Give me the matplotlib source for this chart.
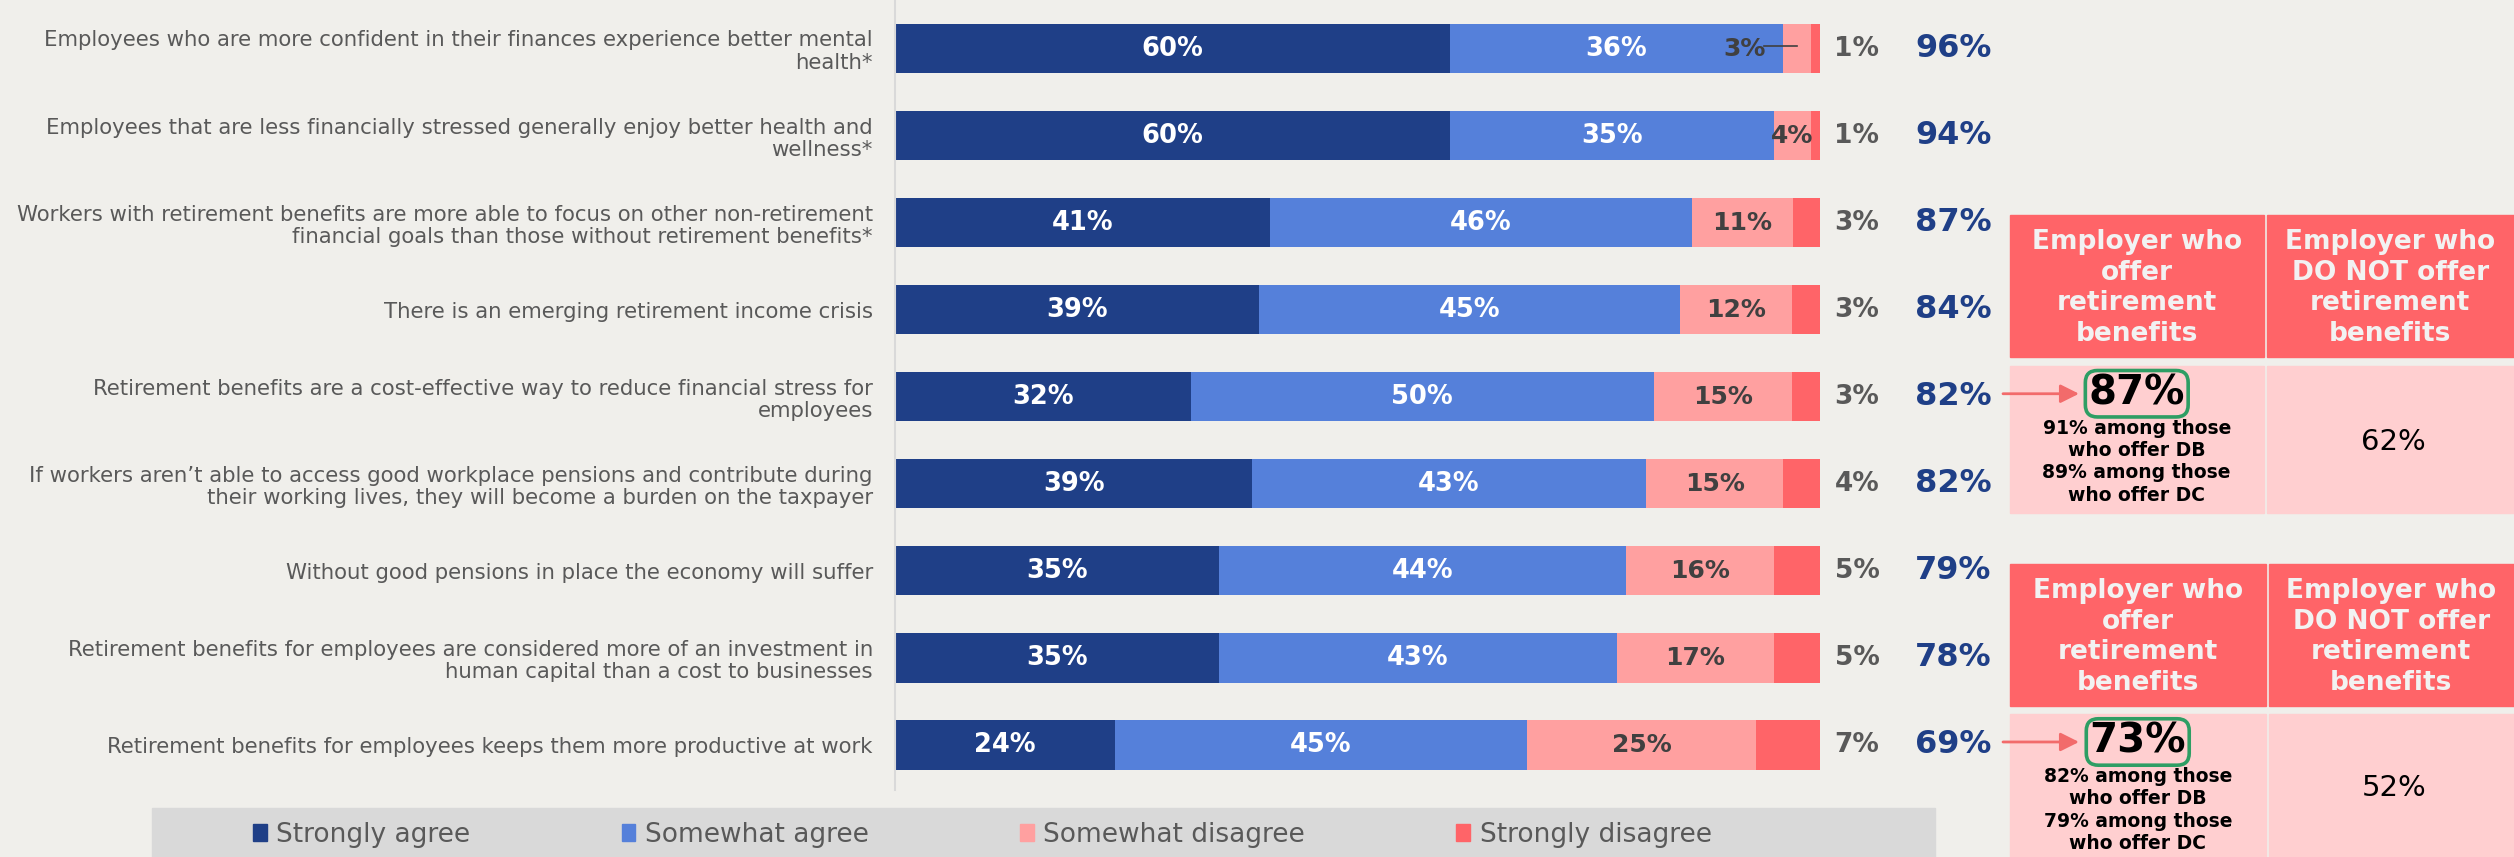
import matplotlib
matplotlib.use("Agg")
import matplotlib.pyplot as plt
from matplotlib.patches import Rectangle

# ---------------------------------------------------------------- data
statements = [
    "Employees who are more confident in their finances experience better mental\nhealth*",
    "Employees that are less financially stressed generally enjoy better health and\nwellness*",
    "Workers with retirement benefits are more able to focus on other non-retirement\nfinancial goals than those without retirement benefits*",
    "There is an emerging retirement income crisis",
    "Retirement benefits are a cost-effective way to reduce financial stress for\nemployees",
    "If workers aren\u2019t able to access good workplace pensions and contribute during\ntheir working lives, they will become a burden on the taxpayer",
    "Without good pensions in place the economy will suffer",
    "Retirement benefits for employees are considered more of an investment in\nhuman capital than a cost to businesses",
    "Retirement benefits for employees keeps them more productive at work",
]
strongly_agree = [60, 60, 41, 39, 32, 39, 35, 35, 24]
somewhat_agree = [36, 35, 46, 45, 50, 43, 44, 43, 45]
somewhat_disagree = [3, 4, 11, 12, 15, 15, 16, 17, 25]
strongly_disagree = [1, 1, 3, 3, 3, 4, 5, 5, 7]
net_agree = [96, 94, 87, 84, 82, 82, 79, 78, 69]
series_names = ["Strongly agree", "Somewhat agree", "Somewhat disagree", "Strongly disagree"]

table_headers = ["Employer who\noffer\nretirement\nbenefits",
                 "Employer who\nDO NOT offer\nretirement\nbenefits"]
offer_values = [87, 73]
offer_notes = ["91% among those\nwho offer DB\n89% among those\nwho offer DC",
               "82% among those\nwho offer DB\n79% among those\nwho offer DC"]
no_offer_values = [62, 52]
linked_rows = [4, 8]

# ---------------------------------------------------------------- style
BG = "#F0EFEB"
COLORS = ["#1F3F87", "#5580DA", "#FFA0A0", "#FF6468"]
LABEL_COLORS = ["white", "white", "#404040"]
GREY = "#595959"
NAVY = "#1F3F87"
HEAD = "#FF6468"
BODY = "#FFCFD0"
GREEN = "#2E9E64"

plt.rcParams["font.family"] = ["DejaVu Sans"]

W, H = 2514, 857
fig = plt.figure(figsize=(W / 100, H / 100), dpi=100, facecolor=BG)

# bar panel, laid out in pixel units of the figure
bx0, bx1, by0, by1 = 895, 1820, 0, 790
ax = fig.add_axes([bx0 / W, 1 - by1 / H, (bx1 - bx0) / W, (by1 - by0) / H])
ax.set_facecolor(BG)
ax.patch.set_alpha(0)

pitch = 87.06
first = 48.5
ax.set_ylim((by1 - first) / pitch, -first / pitch)
ax.set_xlim(0, 1)

series = [strongly_agree, somewhat_agree, somewhat_disagree, strongly_disagree]
n = len(statements)
totals = [sum(s[i] for s in series) for i in range(n)]
left = [0.0] * n
bar_h = 0.565
for k, (vals, col) in enumerate(zip(series, COLORS)):
    widths = [v / t for v, t in zip(vals, totals)]
    ax.barh(range(n), widths, left=left, height=bar_h, color=col,
            edgecolor="none", label=series_names[k])
    for i, (v, w, l) in enumerate(zip(vals, widths, left)):
        cx = l + w / 2
        if k < 2:
            ax.text(cx, i, f"{v}%", ha="center", va="center", color=LABEL_COLORS[k],
                    fontsize=18.5, fontweight="bold")
        elif k == 2:
            if v <= 3:
                # too narrow: label sits to the left with a leader line
                ax.text(l - 0.042, i, f"{v}%", ha="center", va="center",
                        color=LABEL_COLORS[k], fontsize=18, fontweight="bold")
                ax.plot([l - 0.02, cx], [i - 0.025, i - 0.025], color="#404040", lw=1.2)
            else:
                ax.text(cx, i, f"{v}%", ha="center", va="center", color=LABEL_COLORS[k],
                        fontsize=18, fontweight="bold")
        else:
            ax.text(1.040, i, f"{v}%", ha="center", va="center", color=GREY,
                    fontsize=19, fontweight="bold", clip_on=False)
    left = [l + w for l, w in zip(left, widths)]

for i, v in enumerate(net_agree):
    ax.text(1.1027, i, f"{v}%", ha="left", va="center", color=NAVY,
            fontsize=23, fontweight="bold", clip_on=False)

ax.set_yticks(range(n))
ax.set_yticklabels(statements, fontsize=15.3, color=GREY)
for lab in ax.get_yticklabels():
    lab.set_linespacing(1.15)
ax.tick_params(axis="y", length=0, pad=16)
ax.set_xticks([])
for side in ["top", "right", "bottom"]:
    ax.spines[side].set_visible(False)
ax.spines["left"].set_color("#D9D9D9")
ax.spines["left"].set_linewidth(1.5)

# overlay in pixel coordinates for the legend band and the side tables
ov = fig.add_axes([0, 0, 1, 1], zorder=3)
ov.set_xlim(0, W)
ov.set_ylim(H, 0)
ov.axis("off")
ov.patch.set_visible(False)

ov.add_patch(Rectangle((152, 808), 1935 - 152, H - 808, color="#D9D9D9", zorder=0))
handles = [Rectangle((0, 0), 1, 1, color=c) for c in COLORS]
fig.legend(handles, series_names, loc="center left",
           bbox_to_anchor=(253 / W, 1 - 835 / H), ncol=4, frameon=False,
           fontsize=19, labelcolor=GREY, handlelength=0.52, handleheight=0.6,
           handletextpad=0.37, columnspacing=5.72, borderpad=0, borderaxespad=0)

fig.canvas.draw()


def row_pixel_y(row):
    return H - ax.transData.transform((0, row))[1]


tables = [
    dict(top=215, head_bot=357, body_top=366, bot=513, split=2265),
    dict(top=564, head_bot=706, body_top=714, bot=H + 2, split=2267),
]
tx0, tx1, gap = 2010, W + 2, 3
for t, geo in enumerate(tables):
    s = geo["split"]
    cols = [(tx0, s - gap / 2), (s + gap / 2, tx1)]
    for c, (x0, x1) in enumerate(cols):
        ov.add_patch(Rectangle((x0, geo["top"]), x1 - x0, geo["head_bot"] - geo["top"],
                               color=HEAD, zorder=1))
        ov.add_patch(Rectangle((x0, geo["body_top"]), x1 - x0, geo["bot"] - geo["body_top"],
                               color=BODY, zorder=1))
        ov.text((x0 + min(x1, W)) / 2, (geo["top"] + geo["head_bot"]) / 2 + 2,
                table_headers[c], ha="center", va="center", color="#F2F2F2",
                fontsize=19, fontweight="bold", linespacing=1.22, zorder=2)
    cx1 = (cols[0][0] + cols[0][1]) / 2
    cx2 = (cols[1][0] + W) / 2
    ry = row_pixel_y(linked_rows[t])
    ov.text(cx1, ry - 3, f"{offer_values[t]}%", ha="center", va="center",
            fontsize=29, fontweight="bold", color="black", zorder=3,
            bbox=dict(boxstyle="round,pad=0.08,rounding_size=0.3", fc="none",
                      ec=GREEN, lw=2.6))
    ov.text(cx1, ry + 65, offer_notes[t], ha="center", va="center",
            fontsize=13.5, fontweight="bold", color="black", linespacing=1.22, zorder=3)
    body_mid = (geo["body_top"] + min(geo["bot"], H)) / 2
    ov.text(cx2 + 3, body_mid + 2, f"{no_offer_values[t]}%", ha="center", va="center",
            fontsize=21, color="black", zorder=3)
    ov.annotate("", xy=(2079, ry - 3), xytext=(2003, ry - 3),
                arrowprops=dict(arrowstyle="-|>", color="#F26B6B", lw=2,
                                mutation_scale=28, shrinkA=0, shrinkB=0), zorder=3)

fig.savefig("out.png", dpi=100, facecolor=BG)
